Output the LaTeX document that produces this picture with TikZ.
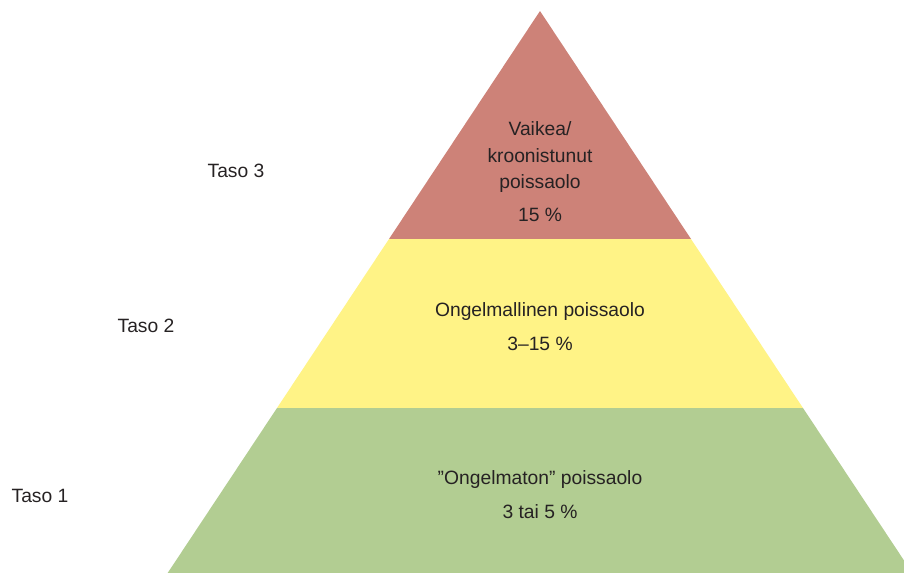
\documentclass[tikz,border=0pt]{standalone}
\usepackage{fontspec}
\setmainfont{Liberation Sans}
\usepackage{tikz}
\pgfdeclarelayer{fill layer}
\pgfdeclarelayer{text layer}
\pgfsetlayers{fill layer,main,text layer}
\definecolor{tierred}{RGB}{205,130,120}
\definecolor{tieryellow}{RGB}{255,243,134}
\definecolor{tiergreen}{RGB}{178,205,146}
\definecolor{inktext}{RGB}{38,34,35}
\tikzstyle{tiertext}=[anchor=base,inner sep=0pt,text=inktext,font=\fontsize{13.7}{16}\selectfont]
\tikzstyle{levelname}=[tiertext]

\begin{document}
\begin{tikzpicture}[x=0.025cm,y=-0.025cm]
					\useasboundingbox (0,0) rectangle (904,573);
					\clip (0,0) rectangle (904,573);
					\begin{pgfonlayer}{fill layer}
						\fill [tierred] (540,11) -- (691,239) -- (389,239) -- cycle;
						\fill [tieryellow] (389,239) -- (691,239) -- (803,408) -- (277,408) -- cycle;
						\fill [tiergreen] (277,408) -- (803,408) -- (913,574) -- (167,574) -- cycle;
					\end{pgfonlayer}
					\begin{pgfonlayer}{text layer}
						\node [style=tiertext] (0) at (540,135) {Vaikea/};
						\node [style=tiertext] (1) at (540,162) {kroonistunut};
						\node [style=tiertext] (2) at (540,188) {poissaolo};
						\node [style=tiertext] (3) at (540,221) {15 \%};
						\node [style=tiertext] (4) at (540,316) {Ongelmallinen poissaolo};
						\node [style=tiertext] (5) at (540,350) {3--15 \%};
						\node [style=tiertext] (6) at (540,484) {”Ongelmaton” poissaolo};
						\node [style=tiertext] (7) at (540,518) {3 tai 5 \%};
						\node [style=levelname] (8) at (236,177) {Taso 3};
						\node [style=levelname] (9) at (146,332) {Taso 2};
						\node [style=levelname] (10) at (40,502) {Taso 1};
					\end{pgfonlayer}
				\end{tikzpicture}
\end{document}
